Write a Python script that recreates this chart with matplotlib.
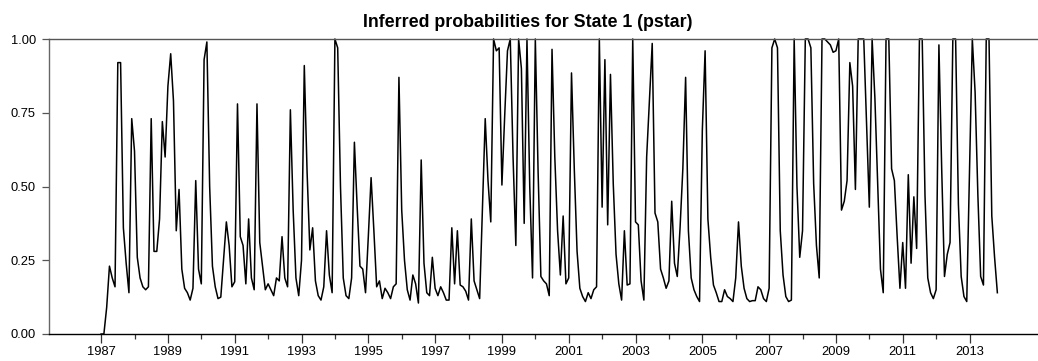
import numpy as np
import matplotlib
matplotlib.use('Agg')
import matplotlib.pyplot as plt

# monthly inferred probabilities, 1987:01 - 2013:11
start_year = 1987
pstar = [
    0.00, 0.00, 0.09, 0.23, 0.19, 0.16, 0.92, 0.92, 0.36, 0.24, 0.14, 0.73,  # 1987
    0.62, 0.26, 0.19, 0.16, 0.15, 0.16, 0.73, 0.28, 0.28, 0.39, 0.72, 0.60,  # 1988
    0.84, 0.95, 0.79, 0.35, 0.49, 0.22, 0.155, 0.14, 0.115, 0.155, 0.52, 0.22,  # 1989
    0.17, 0.93, 0.99, 0.50, 0.23, 0.16, 0.12, 0.125, 0.25, 0.38, 0.30, 0.16,  # 1990
    0.177, 0.78, 0.33, 0.30, 0.17, 0.39, 0.19, 0.15, 0.78, 0.31, 0.23, 0.15,  # 1991
    0.17, 0.15, 0.13, 0.19, 0.18, 0.33, 0.19, 0.16, 0.76, 0.42, 0.19, 0.13,  # 1992
    0.25, 0.91, 0.55, 0.285, 0.36, 0.18, 0.13, 0.115, 0.16, 0.35, 0.20, 0.14,  # 1993
    1.00, 0.97, 0.50, 0.19, 0.13, 0.12, 0.19, 0.65, 0.43, 0.23, 0.22, 0.14,  # 1994
    0.33, 0.53, 0.35, 0.16, 0.18, 0.12, 0.155, 0.14, 0.12, 0.16, 0.17, 0.87,  # 1995
    0.42, 0.25, 0.15, 0.115, 0.20, 0.17, 0.105, 0.59, 0.24, 0.14, 0.13, 0.26,  # 1996
    0.155, 0.13, 0.16, 0.14, 0.115, 0.115, 0.36, 0.17, 0.35, 0.166, 0.16, 0.145,  # 1997
    0.115, 0.39, 0.18, 0.15, 0.12, 0.42, 0.73, 0.52, 0.38, 1.00, 0.96, 0.97,  # 1998
    0.505, 0.74, 0.96, 1.00, 0.60, 0.30, 1.00, 0.90, 0.375, 1.00, 0.50, 0.19,  # 1999
    1.00, 0.55, 0.195, 0.18, 0.17, 0.13, 0.965, 0.60, 0.35, 0.20, 0.40, 0.17,  # 2000
    0.19, 0.885, 0.56, 0.28, 0.155, 0.127, 0.11, 0.14, 0.12, 0.15, 0.16, 1.00,  # 2001
    0.43, 0.93, 0.37, 0.88, 0.51, 0.27, 0.17, 0.115, 0.35, 0.166, 0.17, 1.00,  # 2002
    0.38, 0.37, 0.18, 0.115, 0.60, 0.79, 0.985, 0.41, 0.38, 0.22, 0.19, 0.155,  # 2003
    0.18, 0.45, 0.24, 0.195, 0.36, 0.56, 0.87, 0.35, 0.19, 0.15, 0.127, 0.11,  # 2004
    0.69, 0.96, 0.39, 0.26, 0.166, 0.14, 0.11, 0.11, 0.15, 0.127, 0.12, 0.11,  # 2005
    0.19, 0.38, 0.23, 0.155, 0.12, 0.11, 0.113, 0.113, 0.16, 0.15, 0.12, 0.11,  # 2006
    0.155, 0.97, 1.00, 0.97, 0.35, 0.20, 0.127, 0.11, 0.115, 1.00, 0.50, 0.26,  # 2007
    0.35, 1.00, 1.00, 0.97, 0.51, 0.30, 0.19, 1.00, 1.00, 0.99, 0.98, 0.955,  # 2008
    0.96, 1.00, 0.42, 0.45, 0.52, 0.92, 0.84, 0.49, 1.00, 1.00, 1.00, 0.71,  # 2009
    0.43, 1.00, 0.80, 0.51, 0.22, 0.14, 1.00, 1.00, 0.56, 0.52, 0.33, 0.155,  # 2010
    0.31, 0.155, 0.54, 0.24, 0.465, 0.29, 1.00, 1.00, 0.47, 0.19, 0.14, 0.12,  # 2011
    0.15, 0.98, 0.56, 0.195, 0.27, 0.31, 1.00, 1.00, 0.44, 0.195, 0.127, 0.11,  # 2012
    0.56, 1.00, 0.82, 0.47, 0.195, 0.166, 1.00, 1.00, 0.40, 0.26, 0.14,  # 2013
]
yticks = [0.00, 0.25, 0.50, 0.75, 1.00]
label_years = list(range(1987, 2014, 2))
minor_years = list(range(1988, 2013, 2))
title = 'Inferred probabilities for State 1 (pstar)'

plt.rcParams['font.family'] = ['Liberation Sans', 'DejaVu Sans']

dates = start_year + np.arange(len(pstar)) / 12.0

W, H = 1038, 361
fig = plt.figure(figsize=(W / 100, H / 100), dpi=100)
ax = fig.add_axes([49 / W, 1 - 334 / H, (W - 49) / W, (334 - 39) / H])

ax.plot(dates, pstar, color='black', lw=1.1, clip_on=False)

ax.set_xlim(1985.44, 2015.05)
ax.set_ylim(0, 1)

ax.set_yticks(yticks)
ax.set_yticklabels(['%.2f' % v for v in yticks], fontsize=9.3)
ax.set_xticks(label_years)
ax.set_xticklabels([str(y) for y in label_years], fontsize=9.3)
ax.set_xticks(minor_years, minor=True)

ax.tick_params(axis='x', which='major', direction='out', length=6.3,
               width=0.9, color='#333333', pad=2.2)
ax.tick_params(axis='x', which='minor', direction='out', length=3.6,
               width=0.9, color='#333333')
ax.tick_params(axis='y', direction='out', length=5, width=0.9,
               color='#555555', pad=4.5)

ax.spines['right'].set_visible(False)
ax.spines['left'].set_color('#666666')
ax.spines['top'].set_color('#555555')
ax.spines['bottom'].set_color('black')
for s in ['left', 'top', 'bottom']:
    ax.spines[s].set_linewidth(1.0)

fig.text(528 / W, 1 - 27 / H, title, ha='center', va='baseline',
         fontsize=12.8, fontweight='bold')

fig.savefig('out.png', dpi=100)
